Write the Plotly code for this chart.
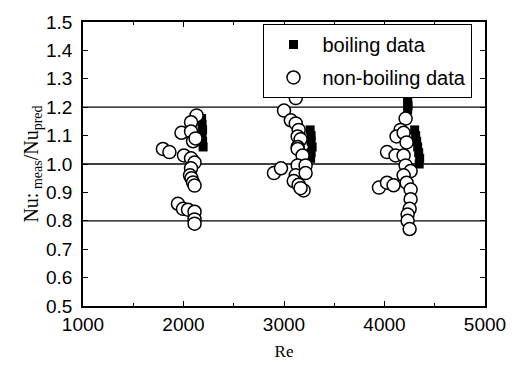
import plotly.graph_objects as go

# Boiling runs: Reynolds number and measured/predicted Nusselt ratio
boil_re = [2180, 2185, 2190, 2185, 2190, 2195,
           3260, 3270, 3270, 3280, 3270, 3265,
           4225, 4230, 4230, 4235, 4230,
           4300, 4310, 4320, 4330, 4340, 4350, 4345]
boil_ratio = [1.16, 1.14, 1.12, 1.10, 1.08, 1.06,
              1.12, 1.10, 1.08, 1.06, 1.04, 1.02,
              1.25, 1.235, 1.22, 1.205, 1.19,
              1.12, 1.10, 1.08, 1.06, 1.04, 1.02, 1.00]

# Non-boiling runs
nonboil_re = [1795, 1860, 2130, 2075, 1980, 2075, 2095, 2120, 2005, 2075, 2110,
              2075, 2065, 2080, 2095, 2110, 1945, 1995, 2045, 2110, 2110, 2110,
              3117, 3000, 3068, 3117, 3146, 3136, 3165, 3136, 3136, 3185,
              3136, 3215, 2900, 2970, 3117, 3215, 3097, 3146, 3195, 3165,
              4210, 4160, 4120, 4190, 4220, 4025, 4110, 4190, 4210, 4260,
              4190, 3945, 4025, 4090, 4220, 4260, 4260, 4250, 4230, 4230, 4250]
nonboil_ratio = [1.053, 1.042, 1.171, 1.147, 1.11, 1.114, 1.08, 1.09, 1.03, 1.02, 1.005,
                 0.985, 0.96, 0.95, 0.935, 0.924, 0.86, 0.842, 0.839, 0.832, 0.805, 0.79,
                 1.232, 1.188, 1.154, 1.143, 1.12, 1.097, 1.087, 1.06, 1.053, 1.03,
                 0.995, 0.995, 0.968, 0.985, 0.96, 0.968, 0.94, 0.927, 0.907, 0.915,
                 1.16, 1.12, 1.097, 1.11, 1.076, 1.042, 1.03, 1.03, 0.995, 0.975,
                 0.96, 0.917, 0.934, 0.925, 0.934, 0.91, 0.876, 0.842, 0.822, 0.8, 0.771]

# Reference ratio lines (±20 % band and unity)
ref_lines = [0.8, 1.0, 1.2]

x_ticks = [1000, 2000, 3000, 4000, 5000]
y_ticks = [0.5, 0.6, 0.7, 0.8, 0.9, 1.0, 1.1, 1.2, 1.3, 1.4, 1.5]

fig = go.Figure()

fig.add_trace(go.Scatter(
    x=boil_re, y=boil_ratio, mode="markers", name="boiling data",
    legendgroup="b",
    marker=dict(symbol="square", size=9, color="black",
                line=dict(color="black", width=0)),
))
fig.add_trace(go.Scatter(
    x=nonboil_re, y=nonboil_ratio, mode="markers", name="non-boiling data",
    legendgroup="n",
    marker=dict(symbol="circle", size=13, color="white",
                line=dict(color="black", width=1.5)),
))

for v in ref_lines:
    fig.add_shape(type="line", xref="paper", x0=0, x1=1, yref="y", y0=v, y1=v,
                  line=dict(color="black", width=1.3), layer="below")

axis_common = dict(
    showline=True, linecolor="black", linewidth=1.5, mirror="ticks",
    ticks="inside", ticklen=5, tickwidth=1, tickcolor="black",
    showgrid=False, zeroline=False,
    tickfont=dict(family="Liberation Sans, Arial", size=19, color="black"),
)

fig.update_xaxes(
    range=[1000, 5000], tickvals=x_ticks, ticktext=[str(t) for t in x_ticks],
    minor=dict(ticks="inside", ticklen=3, dtick=500, tickcolor="black"),
    ticklabelstandoff=0,
    title=dict(text="Re", font=dict(family="Liberation Serif, Times New Roman",
                                    size=17, color="black"), standoff=12),
    **axis_common,
)
fig.update_yaxes(
    range=[0.5, 1.5], tickvals=y_ticks, ticktext=[f"{t:.1f}" for t in y_ticks],
    ticklabelstandoff=5,
    title=dict(text="Nu:<sub> meas</sub>/Nu<sub>pred</sub>",
               font=dict(family="Liberation Serif, Times New Roman",
                         size=20, color="black"), standoff=2),
    **axis_common,
)

fig.update_layout(
    width=518, height=370,
    margin=dict(l=83, r=25, t=18, b=57),
    plot_bgcolor="white", paper_bgcolor="white",
    showlegend=True,
    legend=dict(
        x=0.449, y=0.993, xanchor="left", yanchor="top",
        bgcolor="white", bordercolor="black", borderwidth=1,
        font=dict(family="Liberation Sans, Arial", size=20, color="black"),
        tracegroupgap=4, itemwidth=48,
    ),
)

fig.write_html("out.html")
